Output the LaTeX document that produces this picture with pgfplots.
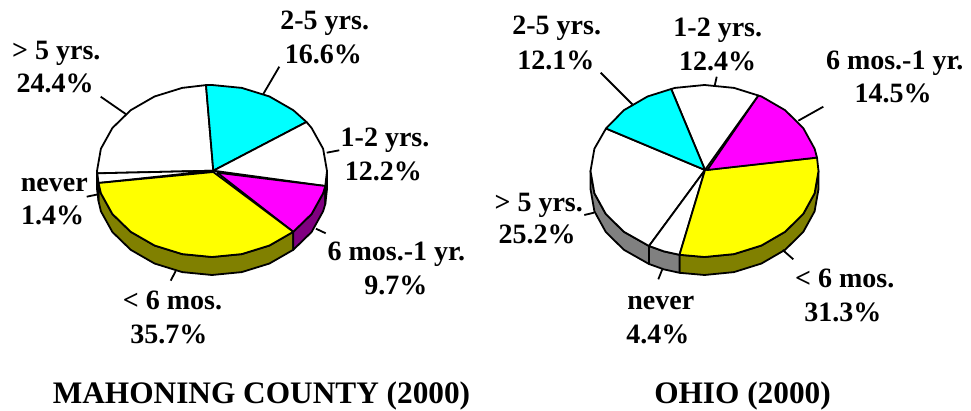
\documentclass[border=0pt]{standalone}
\usepackage{pgfplots}
\pgfplotsset{compat=1.18}
\usepackage{fontspec}
\setmainfont{Liberation Serif}
\definecolor{cy}{RGB}{0,255,255}
\definecolor{mg}{RGB}{255,0,255}
\definecolor{yl}{RGB}{255,255,0}
\definecolor{ol}{RGB}{128,128,0}
\definecolor{dm}{RGB}{128,0,128}
\definecolor{gr}{RGB}{128,128,128}
\newcommand{\lab}[3]{\node[font=\fontsize{28}{30}\selectfont\bfseries,inner sep=0pt,anchor=base] at (axis cs:#1,#2) {#3};}
\newcommand{\ttl}[3]{\node[font=\fontsize{31.3}{33}\selectfont\bfseries,inner sep=0pt,anchor=base] at (axis cs:#1,#2) {#3};}
\begin{document}
\begin{tikzpicture}
\begin{axis}[
  width=971pt,height=411pt,scale only axis,
  xmin=0,xmax=971,ymin=0,ymax=411,y dir=reverse,
  axis lines=none,clip=false,
  every axis plot/.append style={draw=black,line width=1.8pt,line join=round,mark=none},
]
\path (axis cs:0,0) rectangle (axis cs:971,411);
% left pie: side
\addplot[fill=ol] coordinates {(98.5,183)(100.9,193.3)(112.4,214)(130.7,231.8)(154.5,245.5)(182.2,254.1)(212,257)(241.8,254.1)(269.5,245.5)(293.3,231.8)(293.3,249.8)(269.5,263.5)(241.8,272.1)(212,275)(182.2,272.1)(154.5,263.5)(130.7,249.8)(112.4,232)(100.9,211.3)(98.5,201)} --cycle;
\addplot[fill=dm] coordinates {(293.3,231.8)(311.6,214)(323.1,193.3)(325.3,186)(325.3,204)(323.1,211.3)(311.6,232)(293.3,249.8)} --cycle;
\addplot[fill=black] coordinates {(325.3,186)(327,171)(327,189)(325.3,204)} --cycle;
\addplot[fill=black] coordinates {(97,171)(98.5,183)(98.5,201)(97,189)} --cycle;
% left pie: top
\addplot[fill=white] coordinates {(213.3,170.7)(97.3,173.3)(97,171)(100.9,148.7)(112.4,128)(130.7,110.2)(154.5,96.5)(182.2,87.9)(206,85.1)} --cycle;
\addplot[fill=cy] coordinates {(213.3,170.7)(206,85.1)(212,85)(241.8,87.9)(269.5,96.5)(293.3,110.2)(306.5,122)} --cycle;
\addplot[fill=white] coordinates {(213.3,170.7)(306.5,122)(311.6,128)(323.1,148.7)(327,171)(325.3,186)} --cycle;
\addplot[fill=white] coordinates {(213.3,170.7)(98.5,183)(97.3,173.3)} --cycle;
\addplot[fill=mg] coordinates {(217.3,172.7)(325.3,186)(323.1,193.3)(311.6,214)(293.3,231.8)} --cycle;
\addplot[fill=yl] coordinates {(213.3,172)(293.3,231.8)(269.5,245.5)(241.8,254.1)(212,257)(182.2,254.1)(154.5,245.5)(130.7,231.8)(112.4,214)(100.9,193.3)(98.5,183)} --cycle;
% left leaders
\addplot[draw=black] coordinates {(100.7,96.7)(125.7,114)};
\addplot[draw=black] coordinates {(279.3,66.7)(263.3,94)};
\addplot[draw=black] coordinates {(339.3,150.3)(326.7,152.7)};
\addplot[draw=black] coordinates {(325.7,233.3)(316,228.7)};
\addplot[draw=black] coordinates {(170.7,280.7)(175.7,271)};
\addplot[draw=black] coordinates {(86.7,196.7)(98.3,194.3)};
% right pie: side
\addplot[fill=ol] coordinates {(818.5,171)(814.6,193.3)(803.2,214)(785.1,231.8)(761.5,245.5)(734,254.1)(704.5,257)(679.5,254.8)(679.5,272.8)(704.5,275)(734,272.1)(761.5,263.5)(785.1,249.8)(803.2,232)(814.6,211.3)(818.5,189)} --cycle;
\addplot[fill=gr] coordinates {(649,246)(664,251.4)(679.5,254.8)(679.5,272.8)(664,269.4)(649,264)} --cycle;
\addplot[fill=gr] coordinates {(590.5,171)(594.4,193.3)(605.8,214)(623.9,231.8)(649,246)(649,264)(623.9,249.8)(605.8,232)(594.4,211.3)(590.5,189)} --cycle;
% right pie: top
\addplot[fill=white] coordinates {(705,170)(606,128.5)(594.4,148.7)(590.5,171)(594.4,193.3)(605.8,214)(623.9,231.8)(649,246)} --cycle;
\addplot[fill=white] coordinates {(705,170)(649,246)(664,251.4)(679.5,254.8)} --cycle;
\addplot[fill=yl] coordinates {(705,170)(817,157.6)(818.5,171)(814.6,193.3)(803.2,214)(785.1,231.8)(761.5,245.5)(734,254.1)(704.5,257)(679.5,254.8)} --cycle;
\addplot[fill=mg] coordinates {(707.3,170)(817,157.6)(814.6,148.7)(803.2,128)(785.1,110.2)(761.5,96.5)(758.3,95.5)} --cycle;
\addplot[fill=white] coordinates {(705,170)(758.3,95.5)(734,87.9)(704.5,85)(675,87.9)(671.2,89)} --cycle;
\addplot[fill=cy] coordinates {(705,170)(671.2,89)(647.5,96.5)(623.9,110.2)(606,128.5)} --cycle;
% right leaders
\addplot[draw=black] coordinates {(600.7,72.7)(632.3,104.3)};
\addplot[draw=black] coordinates {(716.7,76.7)(714.7,85.7)};
\addplot[draw=black] coordinates {(823.3,106.7)(798.3,120.7)};
\addplot[draw=black] coordinates {(793.3,259.3)(782.7,250)};
\addplot[draw=black] coordinates {(658.3,279.3)(662.3,269.3)};
\addplot[draw=black] coordinates {(584.3,215)(594,212.7)};
% left labels
\lab{324.7}{29.3}{2-5 yrs.}
\lab{323.4}{63.3}{16.6\%}
\lab{56.3}{59.3}{> 5 yrs.}
\lab{55}{92.7}{24.4\%}
\lab{385}{146.7}{1-2 yrs.}
\lab{383.3}{181}{12.2\%}
\lab{54.3}{191.7}{never}
\lab{52.7}{225}{1.4\%}
\lab{396.3}{261}{6 mos.-1 yr.}
\lab{395.8}{295}{9.7\%}
\lab{172.5}{310}{< 6 mos.}
\lab{168.8}{343.3}{35.7\%}
% right labels
\lab{556.7}{35}{2-5 yrs.}
\lab{555.8}{69.3}{12.1\%}
\lab{717.8}{36.7}{1-2 yrs.}
\lab{717.5}{71}{12.4\%}
\lab{894.7}{69.3}{6 mos.-1 yr.}
\lab{893}{102.7}{14.5\%}
\lab{538.7}{211.7}{> 5 yrs.}
\lab{537}{243.3}{25.2\%}
\lab{660.8}{310}{never}
\lab{657.8}{343.3}{4.4\%}
\lab{844.7}{287.7}{< 6 mos.}
\lab{842.8}{321.7}{31.3\%}
\ttl{261.5}{403.3}{MAHONING COUNTY (2000)}
\ttl{742.5}{403.3}{OHIO (2000)}
\end{axis}
\end{tikzpicture}
\end{document}
